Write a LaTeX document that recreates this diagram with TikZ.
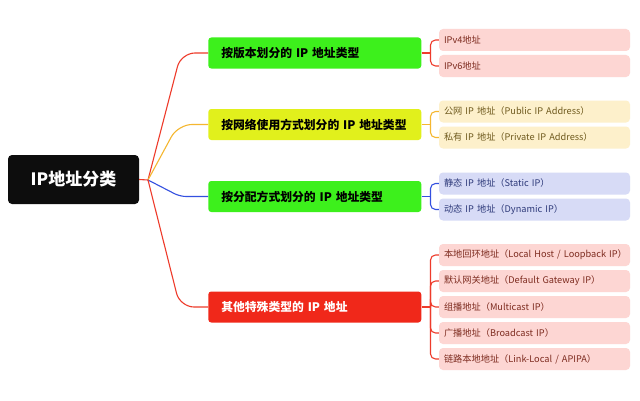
\documentclass[tikz,border=0pt]{standalone}
\usepackage{fontspec}
\setmainfont{Noto Sans CJK SC}
\usetikzlibrary{calc}
\definecolor{rootfill}{HTML}{0D0D0D}
\definecolor{gbox}{HTML}{3DF01C}
\definecolor{ybox}{HTML}{E1F01C}
\definecolor{rbox}{HTML}{F0281A}
\definecolor{pleaf}{HTML}{FDD6D3}
\definecolor{yleaf}{HTML}{FDF0CB}
\definecolor{bleaf}{HTML}{D7DBF6}
\definecolor{lred}{HTML}{EE3B2B}
\definecolor{lyel}{HTML}{F5B730}
\definecolor{lblue}{HTML}{3450E0}
\definecolor{tred}{HTML}{7D2B1F}
\definecolor{tyel}{HTML}{6F5A1E}
\definecolor{tblue}{HTML}{2E3A7A}
\begin{document}
\begin{tikzpicture}[x=1pt,y=1pt,
  rootbox/.style={fill=rootfill,rounded corners=4pt,minimum width=131pt,minimum height=49pt,inner sep=0pt,text=white,font=\bfseries\fontsize{17}{20}\selectfont},
  branchbox/.style={rounded corners=3pt,minimum width=213pt,minimum height=31pt,inner xsep=13pt,inner ysep=0pt,text width=187pt,align=left,font=\bfseries\fontsize{11.8}{14}\selectfont},
  leafbox/.style={rounded corners=4pt,minimum width=191pt,minimum height=22pt,inner xsep=5pt,inner ysep=0pt,text width=181pt,align=left,font=\fontsize{9.2}{11}\selectfont},
  conn/.style={line width=1.1pt},
  mainconn/.style={conn,rounded corners=14pt},
  leafconn/.style={conn,rounded corners=5pt}]
\fill[white] (0,0) rectangle (640,400);
\useasboundingbox (0,0) rectangle (640,400);

\node[rootbox] (root) at (73.5,220.5) {IP地址分类};
\coordinate (rj) at (148,220);

\node[branchbox,fill=gbox,text=black] (b1) at (314.8,347) {按版本划分的 IP 地址类型};
\node[branchbox,fill=ybox,text=black] (b2) at (314.8,275.5) {按网络使用方式划分的 IP 地址类型};
\node[branchbox,fill=gbox,text=black] (b3) at (314.8,203.5) {按分配方式划分的 IP 地址类型};
\node[branchbox,fill=rbox,text=white] (b4) at (314.8,93) {其他特殊类型的 IP 地址};

\node[leafbox,fill=pleaf,text=tred] (l11) at (534.5,360) {\mbox{IPv4地址}};
\node[leafbox,fill=pleaf,text=tred] (l12) at (534.5,334) {\mbox{IPv6地址}};
\node[leafbox,fill=yleaf,text=tyel] (l21) at (534.5,288.5) {\mbox{公网 IP 地址（Public IP Address）}};
\node[leafbox,fill=yleaf,text=tyel] (l22) at (534.5,262.5) {\mbox{私有 IP 地址（Private IP Address）}};
\node[leafbox,fill=bleaf,text=tblue] (l31) at (534.5,216.5) {\mbox{静态 IP 地址（Static IP）}};
\node[leafbox,fill=bleaf,text=tblue] (l32) at (534.5,190.5) {\mbox{动态 IP 地址（Dynamic IP）}};
\node[leafbox,fill=pleaf,text=tred] (l41) at (534.5,145) {\mbox{本地回环地址（Local Host / Loopback IP）}};
\node[leafbox,fill=pleaf,text=tred] (l42) at (534.5,119) {\mbox{默认网关地址（Default Gateway IP）}};
\node[leafbox,fill=pleaf,text=tred] (l43) at (534.5,93) {\mbox{组播地址（Multicast IP）}};
\node[leafbox,fill=pleaf,text=tred] (l44) at (534.5,67) {\mbox{广播地址（Broadcast IP）}};
\node[leafbox,fill=pleaf,text=tred] (l45) at (534.5,41) {\mbox{链路本地地址（Link-Local / APIPA）}};

% root to branches
\draw[conn,lred] (root.east) -- (rj);
\draw[mainconn,lred] (rj) -- (181,347) -- (b1.west);
\draw[mainconn,lyel] (rj) -- (178,275.5) -- (b2.west);
\draw[conn,lblue,rounded corners=6pt] (rj) -- (180,203.5) -- (b3.west);
\draw[mainconn,lred] (rj) -- (180,93) -- (b4.west);

% branches to leaves
\coordinate (j1) at ($(b1.east)+(9,0)$);
\coordinate (j2) at ($(b2.east)+(9,0)$);
\coordinate (j3) at ($(b3.east)+(9,0)$);
\coordinate (j4) at ($(b4.east)+(9,0)$);
\draw[conn,lred] (b1.east) -- (j1);
\draw[leafconn,lred] (j1) |- (l11.west);
\draw[leafconn,lred] (j1) |- (l12.west);
\draw[conn,lyel] (b2.east) -- (j2);
\draw[leafconn,lyel] (j2) |- (l21.west);
\draw[leafconn,lyel] (j2) |- (l22.west);
\draw[conn,lblue] (b3.east) -- (j3);
\draw[leafconn,lblue] (j3) |- (l31.west);
\draw[leafconn,lblue] (j3) |- (l32.west);
\draw[conn,lred] (b4.east) -- (j4);
\draw[leafconn,lred] (j4) |- (l41.west);
\draw[leafconn,lred] (j4) |- (l42.west);
\draw[leafconn,lred] (j4) |- (l43.west);
\draw[leafconn,lred] (j4) |- (l44.west);
\draw[leafconn,lred] (j4) |- (l45.west);
\end{tikzpicture}
\end{document}
